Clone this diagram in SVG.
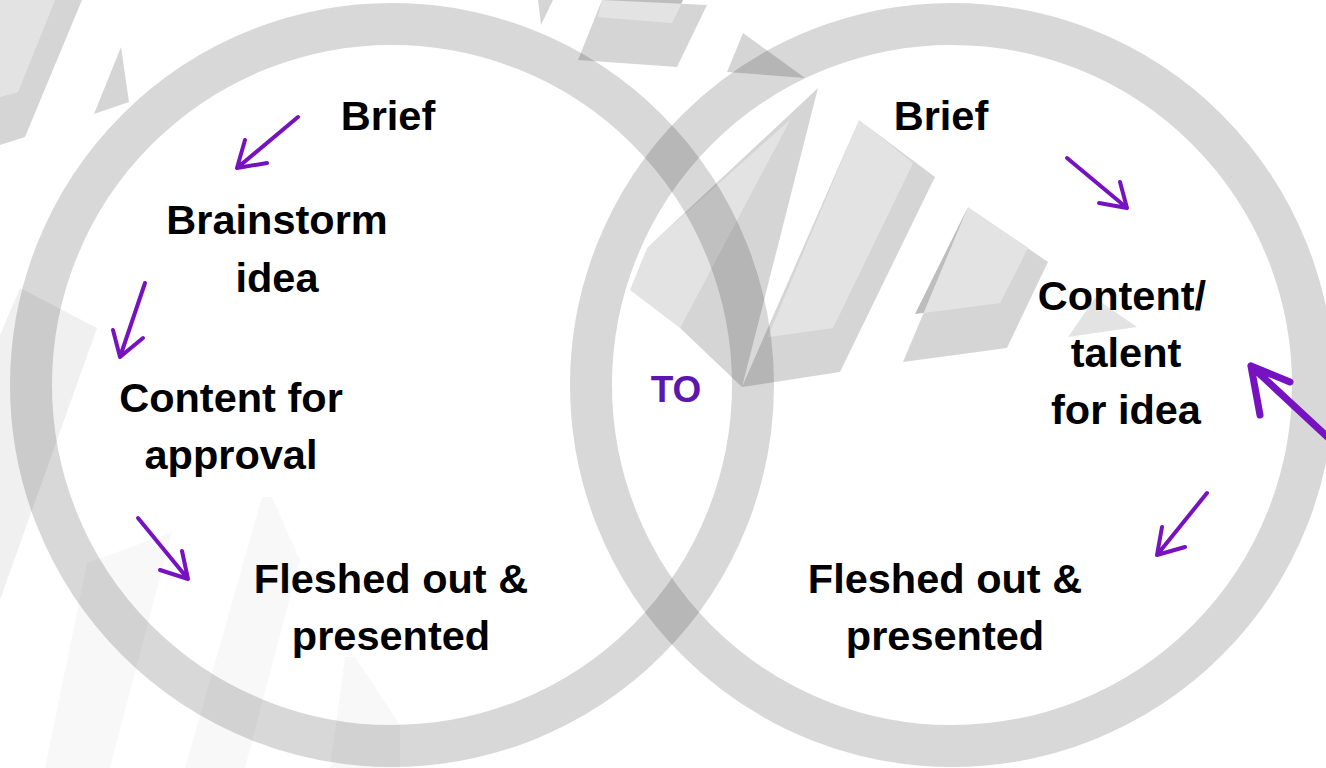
<svg xmlns="http://www.w3.org/2000/svg" width="1326" height="768" viewBox="0 0 1326 768">
<defs>
<style>
.bgd{fill:#000;fill-opacity:0.165;}
.bgl{fill:#000;fill-opacity:0.11;}
.bgf{fill:#000;fill-opacity:0.028;}
.bgs{fill:#000;fill-opacity:0.06;}
.ring{fill:none;stroke:#1a1a1a;stroke-opacity:0.17;stroke-width:42;}
.lbl{font-family:"Liberation Sans",Arial,sans-serif;font-weight:700;font-size:41.5px;fill:#000;text-anchor:middle;}
.to{font-family:"Liberation Sans",Arial,sans-serif;font-weight:700;font-size:37px;fill:#5a16ad;text-anchor:middle;}
.arr{fill:none;stroke:#7612bf;stroke-width:4;stroke-linecap:round;stroke-linejoin:round;}
.arrb{fill:none;stroke:#7612bf;stroke-width:7;stroke-linecap:round;stroke-linejoin:round;}
</style>
</defs>
<rect width="1326" height="768" fill="#fff"/>
<g id="background">
<path class="bgd" fill-rule="evenodd" d="M0,0 L82,0 L25,137 L0,145 Z M0,0 L55,0 L18,92 L0,97 Z"/>
<polygon class="bgl" points="0,0 55,0 18,92 0,97"/>
<polygon class="bgd" points="121,47 129,102 94,114"/>
<polygon class="bgd" points="538,0 553,0 541,25"/>
<path class="bgd" fill-rule="evenodd" d="M602,0 L707,5 L677,67 L578,60 Z M602,0 L683,0 L672,23 L598,17 Z"/>
<polygon class="bgl" points="602,0 683,0 672,23 598,17"/>
<polygon class="bgd" points="743,33 805,78 727,72"/>
<path class="bgd" fill-rule="evenodd" d="M818,88 L647,248 L630,290 L680,328 L742,387 Z M790,120 L647,248 L630,290 L680,328 Z"/>
<polygon class="bgl" points="790,120 647,248 630,290 680,328"/>
<path class="bgd" fill-rule="evenodd" d="M859,120 L935,177 L840,372 L742,387 Z M859,120 L913,163 L833,328 L768,337 Z"/>
<polygon class="bgl" points="859,120 913,163 833,328 768,337"/>
<path class="bgd" fill-rule="evenodd" d="M968,207 L1048,262 L1007,348 L903,362 Z M968,207 L1028,248 L1000,303 L915,314 Z"/>
<polygon class="bgl" points="968,207 1028,248 1000,303 915,314"/>
<polygon class="bgl" points="1068,337 1137,327 1095,298"/>
<polygon class="bgs" points="20,288 97,328 0,600 0,335"/>
<polygon class="bgf" points="87,563 172,532 110,768 45,768"/>
<polygon class="bgf" points="262,497 272,497 300,560 245,768 185,768"/>
<polygon class="bgf" points="345,657 355,657 400,725 400,768 330,768"/>
</g>
<g id="rings">
<circle id="ring-left" class="ring" cx="392" cy="385" r="361"/>
<circle id="ring-right" class="ring" cx="952" cy="385" r="361"/>
</g>
<g id="node-brief-left"><text class="lbl" x="388" y="130">Brief</text></g>
<g id="node-brainstorm"><text class="lbl" x="277" y="234">Brainstorm</text><text class="lbl" x="277" y="292">idea</text></g>
<g id="node-content-approval"><text class="lbl" x="231" y="412">Content for</text><text class="lbl" x="231" y="469">approval</text></g>
<g id="node-fleshed-left"><text class="lbl" x="391" y="593">Fleshed out &amp;</text><text class="lbl" x="391" y="650">presented</text></g>
<g id="node-to"><text class="to" x="676" y="402">TO</text></g>
<g id="node-brief-right"><text class="lbl" x="941" y="130">Brief</text></g>
<g id="node-content-talent"><text class="lbl" x="1122" y="310">Content/</text><text class="lbl" x="1126" y="367">talent</text><text class="lbl" x="1126" y="424">for idea</text></g>
<g id="node-fleshed-right"><text class="lbl" x="945" y="593">Fleshed out &amp;</text><text class="lbl" x="945" y="650">presented</text></g>
<g id="connectors">
<path class="arr" d="M298,117 L237,168 M245,140 L237,168 L267,163"/>
<path class="arr" d="M145,283 L120,357 M113,330 L120,357 L143,338"/>
<path class="arr" d="M138,518 L188,579 M182,551 L188,579 L160,570"/>
<path class="arr" d="M1067,158 L1127,208 M1120,182 L1127,208 L1099,203"/>
<path class="arr" d="M1207,493 L1157,555 M1162,527 L1157,555 L1185,547"/>
<path class="arrb" d="M1335,444 L1251,366 M1260,415 L1251,366 L1290,382"/>
</g>
</svg>
